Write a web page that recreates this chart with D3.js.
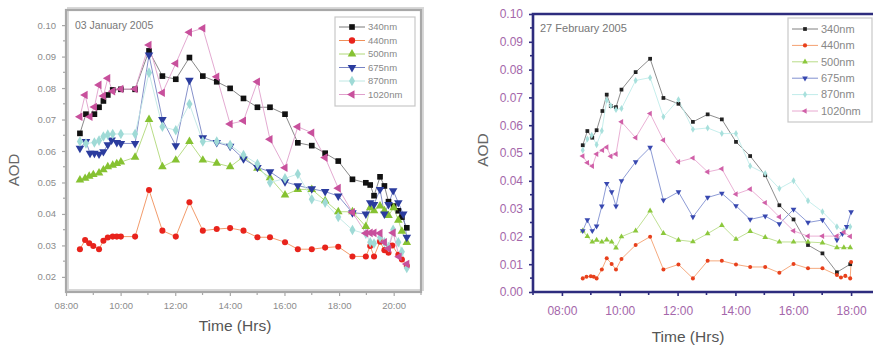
<!DOCTYPE html>
<html><head><meta charset="utf-8">
<script src="https://cdn.jsdelivr.net/npm/d3@7"></script>
<style>body{margin:0;background:#fff}svg{display:block;font-family:Arial,"Liberation Sans",sans-serif}</style>
</head><body>
<svg id="c" width="873" height="348"></svg>
<script>
// ---------- data ----------
const seriesNames = ["340nm","440nm","500nm","675nm","870nm","1020nm"];
const xTickLabels = ["08:00","10:00","12:00","14:00","16:00","18:00","20:00"];
const xTickHours = [8,10,12,14,16,18,20];
const yTicksJan = [0.02,0.03,0.04,0.05,0.06,0.07,0.08,0.09,0.10];
const yTicksFeb = [0.00,0.01,0.02,0.03,0.04,0.05,0.06,0.07,0.08,0.09,0.10];

const jan340 = [[8.51,.0656],[8.73,.0717],[9.04,.0717],[9.21,.0739],[9.37,.0759],[9.53,.0778],[9.71,.0794],[10.01,.0796],[10.53,.0796],[11.04,.0918],[11.53,.0838],[12.02,.0828],[12.52,.0897],[13.01,.0838],[13.52,.082],[14.01,.0799],[14.5,.0767],[15.01,.0739],[15.47,.0739],[16.02,.0717],[16.49,.0626],[17.0,.0617],[17.49,.0593],[17.97,.0568],[18.49,.051],[18.98,.0499],[19.14,.0492],[19.28,.0458],[19.5,.0518],[19.66,.0489],[19.81,.0439],[20.0,.0425],[20.17,.041],[20.3,.039],[20.48,.0356]];
const jan440 = [[8.51,.0288],[8.70,.0317],[8.85,.0307],[9.0,.0298],[9.21,.0288],[9.37,.0315],[9.53,.0325],[9.71,.0328],[9.86,.0328],[10.01,.0328],[10.53,.0328],[11.04,.0476],[11.53,.0347],[12.02,.0328],[12.52,.0437],[13.01,.0347],[13.52,.0352],[14.01,.0355],[14.5,.0347],[15.01,.0326],[15.47,.0326],[16.02,.031],[16.49,.0288],[17.0,.0288],[17.49,.0293],[17.97,.0296],[18.49,.0265],[18.98,.0265],[19.14,.0298],[19.28,.0265],[19.5,.0312],[19.66,.0285],[19.81,.0277],[19.95,.03],[20.17,.027],[20.3,.0255],[20.48,.0235]];
const jan500 = [[8.51,.0508],[8.70,.0513],[8.85,.052],[9.0,.0525],[9.21,.053],[9.37,.054],[9.53,.055],[9.71,.0555],[9.86,.056],[10.01,.0565],[10.53,.058],[11.04,.07],[11.53,.055],[12.02,.0571],[12.52,.063],[13.01,.0571],[13.52,.0561],[14.01,.055],[14.5,.0582],[15.01,.0545],[15.47,.0515],[16.02,.046],[16.49,.0478],[17.0,.0478],[17.49,.0442],[17.97,.0407],[18.49,.0407],[18.98,.036],[19.14,.042],[19.28,.041],[19.5,.0425],[19.66,.041],[19.81,.0395],[20.0,.042],[20.17,.038],[20.3,.0345],[20.48,.0309]];
const jan675 = [[8.51,.0609],[8.73,.063],[8.88,.0593],[9.04,.0593],[9.21,.059],[9.37,.0598],[9.53,.062],[9.67,.0635],[9.86,.0627],[10.01,.0624],[10.53,.0624],[11.04,.0905],[11.53,.07],[12.02,.0617],[12.52,.0825],[13.01,.0642],[13.52,.0627],[14.01,.0615],[14.5,.0575],[15.01,.0548],[15.47,.0534],[16.02,.0502],[16.49,.049],[17.0,.048],[17.49,.0471],[17.97,.0457],[18.49,.0404],[18.98,.040],[19.14,.0436],[19.28,.043],[19.5,.0478],[19.66,.040],[19.81,.043],[19.98,.0474],[20.17,.0436],[20.35,.040],[20.48,.0326]];
const jan870 = [[8.51,.063],[8.73,.0624],[9.04,.0627],[9.21,.0633],[9.37,.0646],[9.53,.0652],[9.71,.0654],[10.01,.0654],[10.53,.0654],[11.04,.0849],[11.53,.0677],[12.02,.0666],[12.52,.0749],[13.01,.063],[13.52,.063],[14.01,.0619],[14.5,.0587],[15.01,.0559],[15.47,.050],[16.02,.0513],[16.49,.0527],[17.0,.0447],[17.49,.0436],[17.97,.039],[18.49,.0349],[18.98,.0337],[19.14,.031],[19.28,.0306],[19.5,.0325],[19.66,.031],[19.81,.0295],[19.98,.035],[20.17,.031],[20.3,.028],[20.48,.0228]];
const jan1020 = [[8.51,.0709],[8.70,.0778],[8.88,.0709],[9.04,.074],[9.21,.081],[9.37,.0775],[9.53,.0831],[9.71,.079],[10.01,.0797],[10.53,.0797],[11.04,.0937],[11.53,.0785],[12.02,.0878],[12.52,.0977],[13.01,.099],[13.52,.0836],[14.01,.0686],[14.5,.0696],[15.01,.082],[15.47,.0637],[16.02,.0547],[16.49,.0677],[17.0,.0658],[17.49,.0579],[17.97,.0482],[18.49,.0405],[18.98,.0339],[19.14,.034],[19.28,.034],[19.5,.0339],[19.66,.031],[19.81,.029],[19.98,.034],[20.2,.0264],[20.48,.0241]];

const feb340 = [[8.72,.0528],[8.88,.0579],[9.05,.0555],[9.20,.0582],[9.40,.0651],[9.55,.071],[9.69,.0669],[9.87,.0665],[10.06,.0728],[10.55,.0791],[11.05,.0839],[11.51,.0698],[12.03,.0677],[12.53,.0612],[13.04,.0639],[13.53,.0621],[14.02,.054],[14.51,.0489],[15.03,.042],[15.52,.0312],[16.01,.0261],[16.51,.0169],[17.01,.0139],[17.51,.0071],[17.97,.010]];
const feb440 = [[8.72,.0049],[8.85,.0055],[9.0,.0057],[9.1,.0055],[9.2,.0049],[9.38,.0081],[9.55,.0121],[9.72,.0101],[9.87,.0081],[10.06,.0119],[10.55,.0169],[11.05,.0199],[11.51,.0081],[12.03,.0099],[12.53,.0049],[13.04,.0112],[13.53,.0112],[14.02,.0099],[14.51,.009],[15.03,.009],[15.52,.0069],[16.01,.0101],[16.51,.0085],[17.01,.0085],[17.51,.0061],[17.65,.0052],[17.8,.0058],[17.97,.0049],[18.0,.0108]];
const feb500 = [[8.72,.022],[8.88,.020],[9.05,.018],[9.2,.0187],[9.38,.018],[9.55,.0188],[9.72,.018],[9.87,.0159],[10.06,.0199],[10.55,.022],[11.05,.0292],[11.51,.0211],[12.03,.0187],[12.53,.0181],[13.04,.021],[13.53,.024],[14.02,.019],[14.51,.0218],[15.03,.0197],[15.52,.018],[16.01,.018],[16.51,.018],[17.01,.0177],[17.51,.016],[17.75,.016],[17.97,.016]];
const feb675 = [[8.72,.022],[8.88,.0259],[9.05,.022],[9.2,.0237],[9.38,.0309],[9.55,.039],[9.72,.036],[9.87,.0309],[10.06,.040],[10.55,.0468],[11.05,.052],[11.51,.033],[12.03,.036],[12.53,.027],[13.04,.034],[13.53,.0355],[14.02,.031],[14.51,.0261],[15.03,.0273],[15.52,.0245],[16.01,.0297],[16.51,.025],[17.01,.0259],[17.51,.0187],[17.7,.021],[17.85,.0235],[18.0,.0288]];
const feb870 = [[8.72,.051],[8.88,.055],[9.03,.0564],[9.2,.053],[9.38,.058],[9.55,.069],[9.69,.067],[9.87,.0656],[10.06,.066],[10.55,.0761],[11.05,.0771],[11.51,.063],[12.03,.0692],[12.53,.0585],[13.04,.059],[13.53,.057],[14.02,.057],[14.51,.0453],[15.03,.0426],[15.52,.0372],[16.01,.040],[16.51,.0328],[17.01,.0289],[17.51,.0235],[17.75,.022],[17.97,.0235]];
const feb1020 = [[8.72,.0489],[8.88,.0465],[9.05,.0453],[9.2,.0496],[9.4,.051],[9.55,.0521],[9.69,.0488],[9.87,.0496],[10.06,.0612],[10.55,.0555],[11.05,.0642],[11.51,.0546],[12.03,.0468],[12.53,.0482],[13.04,.0432],[13.53,.0443],[14.02,.0352],[14.51,.037],[15.03,.0321],[15.52,.027],[16.01,.022],[16.51,.0201],[17.01,.0201],[17.51,.0201],[17.75,.0215],[17.97,.020]];

// ---------- styles ----------
const markerColors = ["#111111","#e8231c","#86c232","#2b3c9e","#9fdad6","#c8509c"];
const lineColors   = ["#7a7a7a","#f0905a","#b0d878","#7884c4","#c0e8e4","#e0a0cc"];
const symbolTypes  = [d3.symbolSquare,d3.symbolCircle,d3.symbolTriangle,d3.symbolTriangle,d3.symbolDiamond,d3.symbolTriangle];
const symbolRot    = [0,0,0,180,0,-90];

const svg = d3.select("#c");
const fmtHour = h => xTickLabels[xTickHours.indexOf(h)];

function panel(cfg){
  const g = svg.append("g");
  const x = d3.scaleLinear().domain(cfg.xDom).range(cfg.xRange);
  const y = d3.scaleLinear().domain(cfg.yDom).range(cfg.yRange);
  const [x0,x1] = cfg.xRange, [y0,y1] = cfg.yRange; // y0 bottom, y1 top

  // minor ticks
  const xMinor = d3.range(Math.ceil(cfg.xDom[0]), Math.floor(cfg.xDom[1])+1).filter(h=>x(h)<=873 && !xTickHours.includes(h));
  g.selectAll(null).data(xMinor).join("line")
    .attr("x1",d=>x(d)).attr("x2",d=>x(d)).attr("y1",y0).attr("y2",y0+cfg.minorLen)
    .attr("stroke",cfg.axisColor).attr("stroke-width",cfg.tickW);
  const yMinor = cfg.yTicks.slice(0,-1).map(v=>v+0.005).concat(cfg.extraMinor||[]);
  g.selectAll(null).data(yMinor).join("line")
    .attr("x1",x0).attr("x2",x0-cfg.minorLen).attr("y1",d=>y(d)).attr("y2",d=>y(d))
    .attr("stroke",cfg.axisColor).attr("stroke-width",cfg.tickW);

  // axes via d3
  const xTicksIn = xTickHours.filter(h=>h>=cfg.xDom[0] && h<=cfg.xDom[1] && x(h)<=873);
  const xa = g.append("g").attr("transform",`translate(0,${y0})`)
    .call(d3.axisBottom(x).tickValues(xTicksIn).tickFormat(fmtHour).tickSize(cfg.majorLen).tickSizeOuter(0));
  const ya = g.append("g").attr("transform",`translate(${x0},0)`)
    .call(d3.axisLeft(y).tickValues(cfg.yTicks).tickFormat(d3.format(".2f")).tickSize(cfg.majorLen).tickSizeOuter(0));
  [xa,ya].forEach(a=>{
    a.select(".domain").remove();
    a.selectAll(".tick line").attr("stroke",cfg.axisColor).attr("stroke-width",cfg.tickW);
    a.selectAll(".tick text").attr("fill",cfg.tickText).attr("font-size",cfg.tickFont).attr("font-family","Arial, 'Liberation Sans', sans-serif");
  });
  xa.selectAll(".tick text").attr("dy",cfg.xLabDy);
  ya.selectAll(".tick text").attr("dx",cfg.yLabDx);

  // frame
  if(cfg.frame==="box"){
    g.append("rect").attr("x",x0+2).attr("y",y1-2).attr("width",x1-x0).attr("height",y0-y1)
      .attr("fill","none").attr("stroke","#d8d8d8").attr("stroke-width",2);
    g.append("rect").attr("x",x0).attr("y",y1).attr("width",x1-x0).attr("height",y0-y1)
      .attr("fill","none").attr("stroke",cfg.axisColor).attr("stroke-width",cfg.axisW);
  } else {
    g.append("path").attr("d",`M${x0},${y0}H873M${x0},${y0}V${y1}H873`)
      .attr("fill","none").attr("stroke",cfg.axisColor).attr("stroke-width",cfg.axisW);
  }

  // lines and markers
  const line = d3.line().x(d=>x(d[0])).y(d=>y(d[1]));
  cfg.data.forEach((ser,i)=>{
    g.append("path").datum(ser).attr("d",line).attr("fill","none")
      .attr("stroke",cfg.lineCols[i]).attr("stroke-width",cfg.lineW);
  });
  cfg.data.forEach((ser,i)=>{
    const sym = d3.symbol().type(symbolTypes[i]).size(cfg.symSize*(i===1?0.9:1));
    g.selectAll(null).data(ser).join("path")
      .attr("d",sym)
      .attr("transform",d=>`translate(${x(d[0])},${y(d[1])}) rotate(${symbolRot[i]})`)
      .attr("fill",cfg.markCols[i]);
  });

  // title
  g.append("text").attr("x",cfg.title[1]).attr("y",cfg.title[2]).text(cfg.title[0])
    .attr("font-size",cfg.titleFont).attr("fill","#777");

  // legend
  const L = cfg.legend;
  g.append("rect").attr("x",L.x).attr("y",L.y).attr("width",L.w).attr("height",L.h)
    .attr("fill","#fff").attr("stroke","#c8c8c8").attr("stroke-width",1.2);
  seriesNames.forEach((nm,i)=>{
    const yy = L.y + L.first + i*L.step;
    g.append("line").attr("x1",L.x+L.l0).attr("x2",L.x+L.l1).attr("y1",yy).attr("y2",yy)
      .attr("stroke",cfg.lineCols[i]).attr("stroke-width",1);
    g.append("path").attr("d",d3.symbol().type(symbolTypes[i]).size(cfg.symSize)())
      .attr("transform",`translate(${L.x+(L.l0+L.l1)/2},${yy}) rotate(${symbolRot[i]})`)
      .attr("fill",cfg.markCols[i]);
    g.append("text").attr("x",L.x+L.tx).attr("y",yy).attr("dy","0.35em").text(nm)
      .attr("font-size",L.font).attr("fill","#888");
  });

  // axis titles
  g.append("text").attr("transform",`translate(${cfg.yTitle[0]},${cfg.yTitle[1]}) rotate(-90)`)
    .attr("text-anchor","middle").attr("font-size",cfg.yTitle[2]).attr("fill","#666").text("AOD");
  g.append("text").attr("x",cfg.xTitle[0]).attr("y",cfg.xTitle[1]).attr("text-anchor","middle")
    .attr("font-size",cfg.xTitle[2]).attr("fill","#555").text("Time (Hrs)");
}

panel({
  xDom:[8,21], xRange:[66,421], yDom:[0.0152,0.1048], yRange:[292,10],
  yTicks:yTicksJan, axisColor:"#a8a8a8", axisW:2.2, tickW:1.2, majorLen:4, minorLen:3,
  tickText:"#8c8c8c", tickFont:"9.5px", xLabDy:"1.1em", yLabDx:"-3",
  frame:"box",
  data:[jan340,jan440,jan500,jan675,jan870,jan1020],
  markCols:markerColors, lineCols:lineColors, lineW:0.9, symSize:32,
  title:["03 January 2005",75,29], titleFont:"10.5px",
  legend:{x:335,y:17,w:80,h:89,first:10,step:13.5,l0:4,l1:30,tx:33,font:"9.5px"},
  yTitle:[19,170,15], xTitle:[235,331,15.5]
});

panel({
  xDom:[7,19], xRange:[533,880], yDom:[0,0.10], yRange:[292,14],
  yTicks:yTicksFeb, axisColor:"#2e2c7e", axisW:2.6, tickW:1.6, majorLen:4, minorLen:3,
  tickText:"#a466aa", tickFont:"12px", xLabDy:"1.35em", yLabDx:"-3",
  frame:"axes",
  data:[feb340,feb440,feb500,feb675,feb870,feb1020],
  markCols:["#222","#e8401c","#8cc83c","#3848b0","#a8e0dc","#d060a8"],
  lineCols:["#808080","#f4a070","#b8dc88","#8090d0","#c0ecea","#e8a8d0"], lineW:0.9, symSize:14,
  title:["27 February 2005",540,32], titleFont:"11px",
  legend:{x:788,y:18,w:84,h:104,first:11,step:16.4,l0:4,l1:30,tx:33,font:"11px"},
  yTitle:[488,150,15.5], xTitle:[688,342,15.5]
});
</script>
</body></html>
